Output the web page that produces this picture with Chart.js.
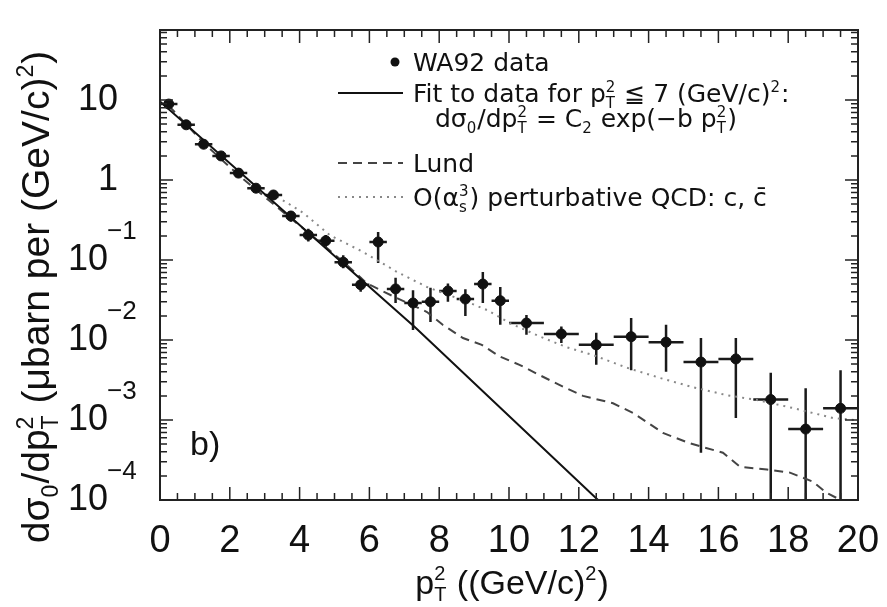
<!DOCTYPE html>
<html>
<head>
<meta charset="utf-8">
<script src="https://cdn.jsdelivr.net/npm/chart.js@4.4.0/dist/chart.umd.min.js"></script>
<style>
  html, body { margin: 0; padding: 0; background: #fff; }
  #wrap { width: 887px; height: 607px; }
</style>
</head>
<body>
<div id="wrap"><canvas id="chart" width="887" height="607"></canvas></div>
<script>
// WA92 points: bin centre, value, error bar ends, half bin width
const ptBins = [0.25, 0.75, 1.25, 1.75, 2.25, 2.75, 3.25, 3.75, 4.25, 4.75,
                5.25, 5.75, 6.25, 6.75, 7.25, 7.75, 8.25, 8.75, 9.25, 9.75,
                10.5, 11.5, 12.5, 13.5, 14.5, 15.5, 16.5, 17.5, 18.5, 19.5];
const sigma = [8.9, 4.9, 2.8, 2.0, 1.22, 0.79, 0.65, 0.355, 0.205, 0.174,
               0.094, 0.049, 0.168, 0.0435, 0.029, 0.030, 0.041, 0.0325, 0.050, 0.031,
               0.0163, 0.0119, 0.0087, 0.011, 0.0094, 0.0053, 0.0058, 0.0018, 0.00077, 0.0014];
const sigmaLow = [8.0, 4.4, 2.5, 1.8, 1.08, 0.69, 0.57, 0.30, 0.17, 0.145,
                  0.079, 0.04, 0.092, 0.029, 0.0133, 0.0168, 0.030, 0.020, 0.029, 0.0155,
                  0.0116, 0.0092, 0.0049, 0.0042, 0.004, 0.00039, 0.00106, 0.0001, 0.0001, 0.0001];
const sigmaHigh = [9.9, 5.5, 3.1, 2.2, 1.38, 0.9, 0.74, 0.41, 0.245, 0.205,
                   0.115, 0.06, 0.224, 0.06, 0.042, 0.045, 0.051, 0.043, 0.071, 0.046,
                   0.0205, 0.0148, 0.0123, 0.0188, 0.0155, 0.0106, 0.0106, 0.0039, 0.0025, 0.0042];
const binHalf = [0.25, 0.25, 0.25, 0.25, 0.25, 0.25, 0.25, 0.25, 0.25, 0.25,
                 0.25, 0.25, 0.25, 0.25, 0.25, 0.25, 0.25, 0.25, 0.25, 0.25,
                 0.5, 0.5, 0.5, 0.5, 0.5, 0.5, 0.5, 0.5, 0.5, 0.5];

// exponential fit (straight on log axis)
const fitX = [0, 7.3, 12.55];
const fitY = [9.6, 0.0145, 0.0001];

// Lund curve
const lundX = [0.25, 1.25, 2.25, 3.25, 4.25, 5.25, 5.93, 6.75, 7.65, 8.1, 8.68, 9.22, 9.74,
               10.3, 10.9, 11.55, 12.12, 12.98, 13.55, 13.95, 14.41, 15.19, 16.13, 16.62,
               17.39, 18.05, 18.7, 19.1, 19.5];
const lundY = [8.5, 2.9, 1.15, 0.5, 0.22, 0.095, 0.051, 0.034, 0.0224, 0.0155, 0.0106, 0.0087, 0.0062,
               0.0049, 0.0036, 0.0026, 0.002, 0.00162, 0.00123, 0.00094, 0.00069, 0.00051, 0.00039, 0.00026,
               0.00024, 0.00022, 0.00017, 0.000123, 0.0001];

// O(as^3) perturbative QCD curve
const qcdX = [3.35, 4.1, 4.87, 5.82, 6.79, 7.65, 8.8, 9.37, 10.03, 10.9, 11.66,
              12.4, 13.38, 14.33, 15.27, 16.25, 17.1, 18.14, 19.28, 19.9];
const qcdY = [0.62, 0.39, 0.204, 0.126, 0.071, 0.046, 0.030, 0.0237, 0.0162, 0.011, 0.0081,
              0.0065, 0.0045, 0.00335, 0.00257, 0.00204, 0.00178, 0.00141, 0.00106, 0.001];

const xTickLabels = [0, 2, 4, 6, 8, 10, 12, 14, 16, 18, 20];
const yDecades = [1, 0, -1, -2, -3, -4];

const family = '"Liberation Sans", Arial, sans-serif';
const legendFamily = '"DejaVu Sans", sans-serif';

function toPts(xs, ys) {
    return xs.map((v, i) => ({x: v, y: ys[i]}));
}

// draw text made of pieces; pieces may be subscript, superscript or both stacked
function richWidth(ctx, segs, size, fam) {
    let w = 0;
    segs.forEach(s => {
        if (s.sub || s.sup) {
            ctx.font = Math.round(size * 0.6) + 'px ' + fam;
            w += Math.max(s.sub ? ctx.measureText(s.sub).width : 0, s.sup ? ctx.measureText(s.sup).width : 0) + 1;
        } else {
            ctx.font = size + 'px ' + fam;
            w += ctx.measureText(s.t).width;
        }
    });
    return w;
}

function drawRich(ctx, segs, x, y, size, align, fam) {
    fam = fam || family;
    let cx = x;
    if (align === 'center') cx = x - richWidth(ctx, segs, size, fam) / 2;
    ctx.textAlign = 'left';
    ctx.textBaseline = 'alphabetic';
    segs.forEach(s => {
        if (s.sub || s.sup) {
            ctx.font = Math.round(size * 0.6) + 'px ' + fam;
            let w = 0;
            if (s.sub) { ctx.fillText(s.sub, cx, y + size * 0.22); w = ctx.measureText(s.sub).width; }
            if (s.sup) { ctx.fillText(s.sup, cx, y - size * 0.42); w = Math.max(w, ctx.measureText(s.sup).width); }
            cx += w + 1;
        } else {
            ctx.font = size + 'px ' + fam;
            ctx.fillText(s.t, cx, y);
            cx += ctx.measureText(s.t).width;
        }
    });
}

const decor = {
    id: 'decor',
    beforeDatasetsDraw(chart) {
        const {ctx, chartArea: a, scales: {x, y}} = chart;
        ctx.save();
        ctx.beginPath();
        ctx.rect(a.left, a.top, a.right - a.left, a.bottom - a.top);
        ctx.clip();
        ctx.strokeStyle = '#1a1a1a';
        ctx.lineWidth = 2.5;
        ptBins.forEach((b, i) => {
            const px = x.getPixelForValue(b);
            const py = y.getPixelForValue(sigma[i]);
            ctx.beginPath();
            ctx.moveTo(x.getPixelForValue(b - binHalf[i]), py);
            ctx.lineTo(x.getPixelForValue(b + binHalf[i]), py);
            ctx.moveTo(px, y.getPixelForValue(sigmaLow[i]));
            ctx.lineTo(px, y.getPixelForValue(sigmaHigh[i]));
            ctx.stroke();
        });
        ctx.restore();
    },
    afterDraw(chart) {
        const {ctx, chartArea: a, scales: {x, y}} = chart;
        ctx.save();
        ctx.strokeStyle = '#222';
        ctx.fillStyle = '#111';

        // frame
        ctx.lineWidth = 2;
        ctx.strokeRect(a.left, a.top, a.right - a.left, a.bottom - a.top);

        // ticks pointing inwards, all four sides
        ctx.lineWidth = 1.5;
        ctx.beginPath();
        for (let k = 0; k <= 40; k++) {
            const px = x.getPixelForValue(k * 0.5);
            const len = k % 4 === 0 ? 13 : 7;
            ctx.moveTo(px, a.bottom); ctx.lineTo(px, a.bottom - len);
            ctx.moveTo(px, a.top); ctx.lineTo(px, a.top + len);
        }
        for (let d = -4; d <= 1; d++) {
            for (let m = 1; m <= 9; m++) {
                const v = m * Math.pow(10, d);
                if (v > y.max) break;
                const py = y.getPixelForValue(v);
                const len = m === 1 ? 13 : 7;
                ctx.moveTo(a.left, py); ctx.lineTo(a.left + len, py);
                ctx.moveTo(a.right, py); ctx.lineTo(a.right - len, py);
            }
        }
        ctx.stroke();

        // x tick labels
        ctx.font = '38px ' + family;
        ctx.textAlign = 'center';
        ctx.textBaseline = 'middle';
        xTickLabels.forEach(v => ctx.fillText(String(v), x.getPixelForValue(v), 542));

        // y tick labels
        yDecades.forEach(d => {
            const py = y.getPixelForValue(Math.pow(10, d));
            ctx.textBaseline = 'middle';
            ctx.font = '36px ' + family;
            ctx.textAlign = 'right';
            if (d >= 0) {
                ctx.fillText(d === 1 ? '10' : '1', 118, py);
            } else {
                ctx.fillText('10', 108, py);
                ctx.font = '26px ' + family;
                ctx.textAlign = 'left';
                ctx.fillText('\u2212' + (-d), 107, py - 28);
            }
        });

        // axis titles
        drawRich(ctx, [{t: 'p'}, {sub: 'T', sup: '2'}, {t: ' ((GeV/c)'}, {sup: '2'}, {t: ')'}],
                 512, 594, 34, 'center');
        ctx.save();
        ctx.translate(49, 297);
        ctx.rotate(-Math.PI / 2);
        drawRich(ctx, [{t: 'd\u03c3'}, {sub: '0'}, {t: '/dp'}, {sub: 'T', sup: '2'},
                       {t: ' (\u03bcbarn per (GeV/c)'}, {sup: '2'}, {t: ')'}], 0, 0, 39, 'center');
        ctx.restore();

        // panel tag
        ctx.font = '34px ' + family;
        ctx.textAlign = 'left';
        ctx.textBaseline = 'middle';
        ctx.fillText('b)', 190, 446);

        // legend
        const lx = 413, size = 25;
        ctx.beginPath();
        ctx.arc(395, 62, 4.5, 0, Math.PI * 2);
        ctx.fill();
        drawRich(ctx, [{t: 'WA92 data'}], lx, 71, size, 'left', legendFamily);

        ctx.lineWidth = 2;
        ctx.strokeStyle = '#111';
        ctx.beginPath(); ctx.moveTo(338, 93); ctx.lineTo(403, 93); ctx.stroke();
        drawRich(ctx, [{t: 'Fit to data for p'}, {sub: 'T', sup: '2'}, {t: ' \u2266 7 (GeV/c)'}, {sup: '2'}, {t: ':'}],
                 lx, 102, size, 'left', legendFamily);
        drawRich(ctx, [{t: 'd\u03c3'}, {sub: '0'}, {t: '/dp'}, {sub: 'T', sup: '2'}, {t: ' = C'}, {sub: '2'},
                       {t: ' exp(\u2212b p'}, {sub: 'T', sup: '2'}, {t: ')'}], 435, 127, size, 'left', legendFamily);

        ctx.strokeStyle = '#444';
        ctx.setLineDash([9, 6]);
        ctx.beginPath(); ctx.moveTo(338, 163); ctx.lineTo(403, 163); ctx.stroke();
        drawRich(ctx, [{t: 'Lund'}], lx, 172, size, 'left', legendFamily);

        ctx.strokeStyle = '#888';
        ctx.setLineDash([2, 5]);
        ctx.beginPath(); ctx.moveTo(338, 197); ctx.lineTo(403, 197); ctx.stroke();
        ctx.setLineDash([]);
        drawRich(ctx, [{t: 'O(\u03b1'}, {sub: 's', sup: '3'}, {t: ') perturbative QCD: c, c\u0304'}],
                 lx, 206, size, 'left', legendFamily);

        ctx.restore();
    }
};

new Chart(document.getElementById('chart').getContext('2d'), {
    type: 'scatter',
    data: {
        datasets: [
            {
                label: 'WA92 data',
                data: toPts(ptBins, sigma),
                backgroundColor: '#111',
                borderColor: '#111',
                pointRadius: 5,
                showLine: false
            },
            {
                label: 'Fit',
                type: 'line',
                data: toPts(fitX, fitY),
                borderColor: '#111',
                borderWidth: 2,
                pointRadius: 0,
                tension: 0
            },
            {
                label: 'Lund',
                type: 'line',
                data: toPts(lundX, lundY),
                borderColor: '#444',
                borderWidth: 2,
                borderDash: [9, 6],
                pointRadius: 0,
                tension: 0
            },
            {
                label: 'QCD',
                type: 'line',
                data: toPts(qcdX, qcdY),
                borderColor: '#888',
                borderWidth: 2,
                borderDash: [2, 5],
                pointRadius: 0,
                tension: 0
            }
        ]
    },
    options: {
        responsive: false,
        animation: false,
        layout: {padding: {left: 160, right: 29, top: 30, bottom: 107}},
        plugins: {legend: {display: false}, tooltip: {enabled: false}},
        scales: {
            x: {type: 'linear', min: 0, max: 20, display: false},
            y: {type: 'logarithmic', min: 0.0001, max: 75, display: false}
        }
    },
    plugins: [decor]
});
</script>
</body>
</html>
